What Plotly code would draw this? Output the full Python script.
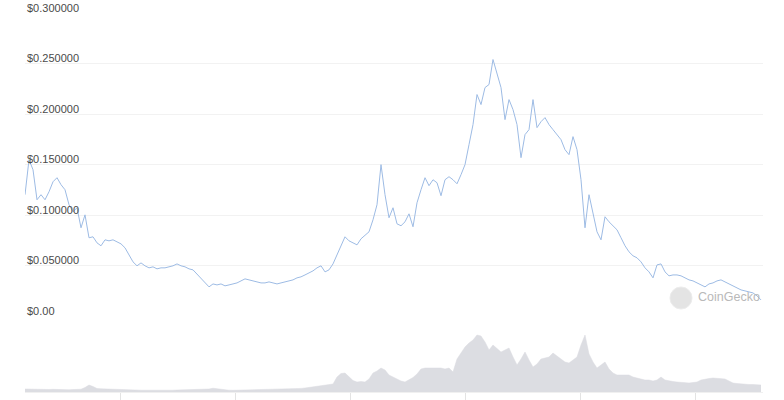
import plotly.graph_objects as go

# Price (USD) sampled evenly across the period
price_usd = [
    0.1204, 0.1550, 0.1451, 0.1154, 0.1204, 0.1154, 0.1233, 0.1332, 0.1372, 0.1303,
    0.1253, 0.1105, 0.1035, 0.1075, 0.0877, 0.1005, 0.0778, 0.0788, 0.0728, 0.0699,
    0.0758, 0.0748, 0.0758, 0.0738, 0.0718, 0.0679, 0.0609, 0.0540, 0.0501, 0.0530,
    0.0501, 0.0481, 0.0491, 0.0471, 0.0481, 0.0481, 0.0491, 0.0501, 0.0520, 0.0501,
    0.0491, 0.0471, 0.0461, 0.0421, 0.0382, 0.0342, 0.0293, 0.0322, 0.0312, 0.0322,
    0.0303, 0.0312, 0.0322, 0.0332, 0.0352, 0.0372, 0.0362, 0.0352, 0.0342, 0.0332,
    0.0332, 0.0342, 0.0332, 0.0322, 0.0332, 0.0342, 0.0352, 0.0362, 0.0382, 0.0392,
    0.0411, 0.0431, 0.0451, 0.0481, 0.0501, 0.0441, 0.0461, 0.0520, 0.0609, 0.0708,
    0.0788, 0.0748, 0.0728, 0.0708, 0.0768, 0.0798, 0.0837, 0.0956, 0.1105, 0.1501,
    0.1204, 0.0976, 0.1075, 0.0916, 0.0897, 0.0936, 0.1015, 0.0887, 0.1124, 0.1253,
    0.1372, 0.1293, 0.1352, 0.1322, 0.1194, 0.1352, 0.1382, 0.1352, 0.1312, 0.1402,
    0.1501, 0.1699, 0.1897, 0.2194, 0.2095, 0.2263, 0.2293, 0.2540, 0.2392, 0.2263,
    0.1946, 0.2144, 0.2045, 0.1897, 0.1570, 0.1798, 0.1847, 0.2144, 0.1867, 0.1926,
    0.1966, 0.1897, 0.1847, 0.1798, 0.1748, 0.1649, 0.1600, 0.1778, 0.1649, 0.1352,
    0.0877, 0.1204, 0.1025, 0.0837, 0.0758, 0.0986, 0.0936, 0.0897, 0.0857, 0.0778,
    0.0699, 0.0639, 0.0600, 0.0580, 0.0540, 0.0481, 0.0441, 0.0382, 0.0510, 0.0520,
    0.0441, 0.0402, 0.0411, 0.0411, 0.0402, 0.0382, 0.0362, 0.0352, 0.0332, 0.0312,
    0.0293, 0.0322, 0.0332, 0.0352, 0.0362, 0.0342, 0.0322, 0.0303, 0.0283, 0.0263,
    0.0253, 0.0243, 0.0233, 0.0204, 0.0164,
]

# Trading volume (millions USD), same sampling
volume_musd = [
    3.0, 2.8, 2.6, 2.5, 2.4, 2.6, 2.5, 2.7, 2.4, 2.2,
    2.3, 2.2, 2.4, 2.5, 2.8, 4.5, 7.0, 5.5, 3.5, 3.2,
    3.0, 2.8, 2.9, 2.6, 2.5, 2.3, 2.2, 2.0, 1.9, 1.8,
    1.8, 1.7, 1.8, 1.9, 1.7, 1.6, 1.7, 1.8, 2.0, 2.1,
    2.0, 2.2, 2.1, 2.3, 2.4, 2.6, 3.0, 3.8, 3.2, 2.4,
    2.0, 1.8, 1.7, 1.8, 1.9, 2.0, 2.1, 2.0, 2.2, 2.3,
    2.5, 2.6, 2.4, 2.7, 2.9, 3.1, 3.3, 3.6, 3.4, 3.6,
    4.0, 4.5, 5.0, 5.5, 6.0, 6.5, 7.0, 8.0, 15.0, 18.5,
    19.0, 15.0, 11.5, 10.0, 10.5, 10.0, 13.0, 19.0, 21.0, 24.0,
    22.0, 17.0, 15.0, 13.0, 11.0, 10.0, 12.0, 14.5, 18.0, 23.0,
    24.0, 24.0, 23.5, 24.0, 24.0, 23.0, 24.0, 20.0, 33.0, 39.0,
    45.0, 49.0, 52.0, 57.0, 56.0, 50.0, 42.0, 47.0, 43.0, 40.0,
    42.0, 44.0, 35.0, 27.0, 33.0, 40.0, 32.0, 25.0, 28.0, 33.0,
    34.0, 35.0, 39.0, 36.0, 33.0, 30.0, 29.0, 32.0, 35.0, 47.0,
    57.0, 38.0, 30.0, 24.0, 27.0, 30.0, 23.0, 19.0, 17.0, 17.0,
    17.5, 17.0, 15.0, 14.0, 12.5, 12.0, 12.0, 11.0, 12.0, 15.0,
    12.0, 11.0, 10.5, 10.0, 9.5, 9.0, 9.0, 9.5, 10.0, 12.0,
    13.0, 13.5, 14.0, 13.5, 13.0, 13.0, 11.0, 9.0, 8.5, 8.0,
    8.0, 7.5, 7.5, 7.0, 7.0,
]

period = list(range(len(price_usd)))

price_ticks = [0.0, 0.05, 0.10, 0.15, 0.20, 0.25, 0.30]
price_tick_labels = ["$0.00", "$0.050000", "$0.100000", "$0.150000",
                     "$0.200000", "$0.250000", "$0.300000"]
time_ticks = [23.75, 52.5, 81.25, 110.0, 138.75, 167.5]

fig = go.Figure()

fig.add_trace(go.Scatter(
    x=period, y=volume_musd, yaxis="y2", mode="lines",
    line=dict(color="rgb(218,219,224)", width=0.5),
    fill="tozeroy", fillcolor="rgb(220,221,226)",
    hoverinfo="skip", showlegend=False,
))

fig.add_trace(go.Scatter(
    x=period, y=price_usd, yaxis="y", mode="lines",
    line=dict(color="#9dbbe4", width=1),
    showlegend=False,
))

fig.update_layout(
    width=784, height=400,
    margin=dict(l=25, r=21, t=0, b=8, pad=0, autoexpand=False),
    paper_bgcolor="white", plot_bgcolor="white",
    font=dict(family="Liberation Sans, Arial, sans-serif", size=11, color="#4a4a4a"),
    xaxis=dict(
        range=[0, 184.5], showgrid=False, zeroline=False, automargin=False,
        showline=True, linecolor="#f0f0f0", linewidth=1,
        tickmode="array", tickvals=time_ticks, ticktext=[""] * len(time_ticks),
        ticks="outside", ticklen=7, tickcolor="#e3e3e3", tickwidth=1,
        showticklabels=False, anchor="y2",
    ),
    yaxis=dict(
        domain=[0.1926, 0.9668], range=[0, 0.3], anchor="x", automargin=False,
        tickmode="array", tickvals=price_ticks, ticks="",
        showticklabels=False,
        showgrid=True, gridcolor="#f2f2f2", gridwidth=1, zeroline=False,
    ),
    yaxis2=dict(
        domain=[0, 80 / 392], range=[0, 80], anchor="x", automargin=False,
        showgrid=False, zeroline=False, showticklabels=False, ticks="",
    ),
)

# Price axis labels sit just above their gridlines, inside the plot
for v, label in zip(price_ticks, price_tick_labels):
    fig.add_annotation(text=label, xref="paper", yref="y", x=0, y=v,
                       xanchor="left", yanchor="middle", yshift=5.5,
                       showarrow=False,
                       font=dict(family="Liberation Sans, Arial, sans-serif",
                                 size=11, color="#4a4a4a"))

# CoinGecko watermark
fig.add_shape(type="circle", xref="paper", yref="paper",
              x0=(670 - 25) / 738, x1=(692 - 25) / 738,
              y0=(392 - 309) / 392, y1=(392 - 287) / 392,
              fillcolor="#e4e4e4", line=dict(color="#ececec", width=1), layer="below")
fig.add_annotation(text="CoinGecko", xref="paper", yref="paper",
                   x=(696 - 25) / 738, y=(392 - 297) / 392,
                   xanchor="left", yanchor="middle", showarrow=False,
                   font=dict(family="Liberation Sans, Arial, sans-serif", size=12.5, color="#b9b9b9"))

fig.write_html("out.html", config={"displayModeBar": False},
               post_script="document.body.style.margin='0';")
